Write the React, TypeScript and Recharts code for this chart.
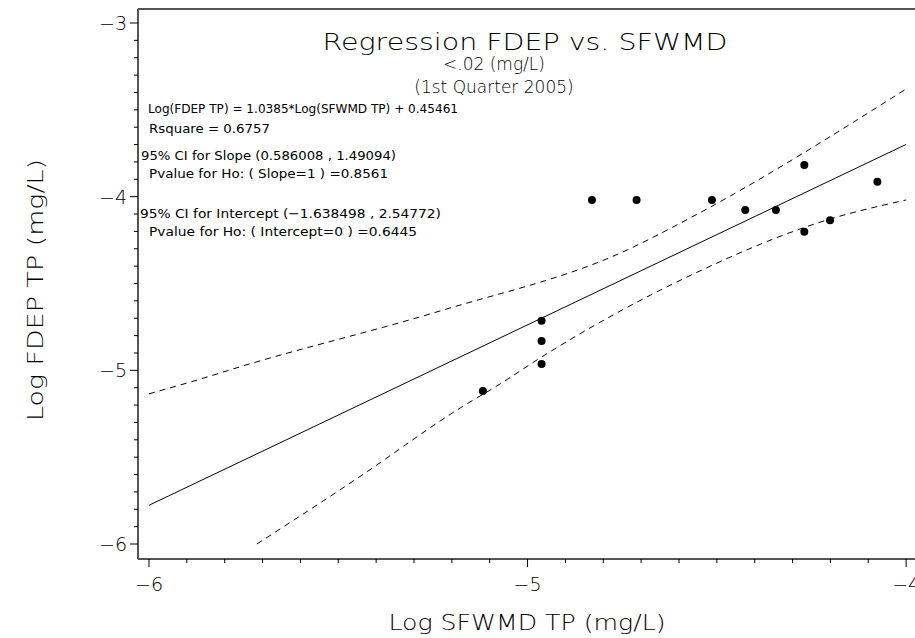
import React from "react";
import { ComposedChart, Line, Scatter, XAxis, YAxis, ReferenceLine } from "recharts";

// log values
const sfwmdLog = [-5.118, -4.963, -4.963, -4.963, -4.83, -4.712, -4.513, -4.425, -4.344, -4.269, -4.269, -4.201, -4.076];
const fdepLog = [-5.119, -4.714, -4.831, -4.963, -4.019, -4.019, -4.019, -4.077, -4.077, -3.818, -4.202, -4.136, -3.914];

const fitX = [-6, -4];
const fitY = [-5.777, -3.699];

const upperX = [-6, -5.873, -5.76, -5.231, -4.737, -4.571, -4.0];
const upperY = [-5.135, -5.056, -4.98, -4.658, -4.307, -4.123, -3.38];

const lowerX = [-5.715, -5.456, -5.178, -5.073, -4.967, -4.579, -4.201, -4.0];
const lowerY = [-6.0, -5.631, -5.217, -5.079, -4.929, -4.463, -4.129, -4.019];

const xTicks = [-6, -5.9, -5.8, -5.7, -5.6, -5.5, -5.4, -5.3, -5.2, -5.1, -5, -4.9, -4.8, -4.7, -4.6, -4.5, -4.4, -4.3, -4.2, -4.1, -4];
const yTicks = [-6, -5.9, -5.8, -5.7, -5.6, -5.5, -5.4, -5.3, -5.2, -5.1, -5, -4.9, -4.8, -4.7, -4.6, -4.5, -4.4, -4.3, -4.2, -4.1, -4, -3.9, -3.8, -3.7, -3.6, -3.5, -3.4, -3.3, -3.2, -3.1, -3];

const X_MIN = -6.029;
const X_MAX = -3.9;
const Y_MIN = -6.0863;
const Y_MAX = -2.9194;

const FONT = "'DejaVu Sans', sans-serif";

const zip = (xs: number[], ys: number[]) => xs.map((x, i) => ({ x, y: ys[i] }));
const points = zip(sfwmdLog, fdepLog);
const fit = zip(fitX, fitY);
const upper = zip(upperX, upperY);
const lower = zip(lowerX, lowerY);

const isMajor = (v: number) => Math.abs(v - Math.round(v)) < 1e-6;
const fmt = (v: number) => (v < 0 ? "\u2212" + Math.abs(Math.round(v)) : String(Math.round(v)));

const XTick = (props: any) => {
  const { x, y, payload } = props;
  const major = isMajor(payload.value);
  return (
    <g>
      <line x1={x} x2={x} y1={y} y2={y + (major ? 8 : 4)} stroke="#000" strokeWidth={1} />
      {major && (
        <text x={x} y={y + 25} textAnchor="middle" dominantBaseline="central" fontSize={19} fontFamily={FONT} fontWeight={200} fill="#000">
          {fmt(payload.value)}
        </text>
      )}
    </g>
  );
};

const YTick = (props: any) => {
  const { x, y, payload } = props;
  const major = isMajor(payload.value);
  return (
    <g>
      <line x1={x - (major ? 8 : 4)} x2={x} y1={y} y2={y} stroke="#000" strokeWidth={1} />
      {major && (
        <text x={x - 11} y={y} textAnchor="end" dominantBaseline="central" fontSize={19} fontFamily={FONT} fontWeight={200} fill="#000">
          {fmt(payload.value)}
        </text>
      )}
    </g>
  );
};

const Dot = (props: any) => <circle cx={props.cx} cy={props.cy} r={4} fill="#000" />;

const big = { fontFamily: FONT, fontWeight: 200, fill: "#000" } as const;
const small = { fontFamily: FONT, fontWeight: 400, fill: "#000" } as const;

export default function App() {
  return (
    <div style={{ position: "absolute", left: 0, top: 0, width: 915, height: 638, overflow: "hidden", background: "#fff" }}>
      <ComposedChart width={960} height={638} margin={{ top: 9, right: 16, left: 0, bottom: 0 }}>
        <XAxis
          type="number"
          dataKey="x"
          domain={[X_MIN, X_MAX]}
          allowDataOverflow
          ticks={xTicks}
          interval={0}
          height={79}
          tickSize={0}
          tickMargin={0}
          tickLine={false}
          tick={<XTick />}
          axisLine={{ stroke: "#555", strokeWidth: 2 }}
        />
        <YAxis
          type="number"
          dataKey="y"
          domain={[Y_MIN, Y_MAX]}
          allowDataOverflow
          ticks={yTicks}
          interval={0}
          width={138}
          tickSize={0}
          tickMargin={0}
          tickLine={false}
          tick={<YTick />}
          axisLine={{ stroke: "#555", strokeWidth: 2 }}
        />
        <ReferenceLine y={Y_MAX} stroke="#555" strokeWidth={2} />
        <Line data={upper} dataKey="y" type="monotone" stroke="#000" strokeWidth={1} strokeDasharray="6 5" dot={false} isAnimationActive={false} />
        <Line data={lower} dataKey="y" type="monotone" stroke="#000" strokeWidth={1} strokeDasharray="6 5" dot={false} isAnimationActive={false} />
        <Line data={fit} dataKey="y" type="linear" stroke="#000" strokeWidth={1} dot={false} isAnimationActive={false} />
        <Scatter data={points} dataKey="y" shape={<Dot />} isAnimationActive={false} />
      </ComposedChart>
      <svg width={915} height={638} style={{ position: "absolute", left: 0, top: 0, pointerEvents: "none" }}>
        <text x={525} y={42} textAnchor="middle" dominantBaseline="central" fontSize={23} textLength={405} lengthAdjust="spacingAndGlyphs" {...big}>
          Regression FDEP vs. SFWMD
        </text>
        <text x={494} y={64} textAnchor="middle" dominantBaseline="central" fontSize={17} {...big}>
          {"<.02 (mg/L)"}
        </text>
        <text x={494} y={87} textAnchor="middle" dominantBaseline="central" fontSize={17} {...big}>
          (1st Quarter 2005)
        </text>
        <text x={148} y={108} dominantBaseline="central" fontSize={13} textLength={310} lengthAdjust="spacingAndGlyphs" {...small}>
          Log(FDEP TP) = 1.0385*Log(SFWMD TP) + 0.45461
        </text>
        <text x={149} y={128} dominantBaseline="central" fontSize={13} textLength={121} lengthAdjust="spacingAndGlyphs" {...small}>
          Rsquare = 0.6757
        </text>
        <text x={141} y={155} dominantBaseline="central" fontSize={13} textLength={255} lengthAdjust="spacingAndGlyphs" {...small}>
          95% CI for Slope (0.586008 , 1.49094)
        </text>
        <text x={149} y={173} dominantBaseline="central" fontSize={13} textLength={239} lengthAdjust="spacingAndGlyphs" {...small}>
          Pvalue for Ho: ( Slope=1 ) =0.8561
        </text>
        <text x={140} y={213} dominantBaseline="central" fontSize={13} textLength={301} lengthAdjust="spacingAndGlyphs" {...small}>
          95% CI for Intercept (−1.638498 , 2.54772)
        </text>
        <text x={149} y={231} dominantBaseline="central" fontSize={13} textLength={268} lengthAdjust="spacingAndGlyphs" {...small}>
          Pvalue for Ho: ( Intercept=0 ) =0.6445
        </text>
        <text x={527} y={622} textAnchor="middle" dominantBaseline="central" fontSize={22} textLength={277} lengthAdjust="spacingAndGlyphs" {...big}>
          Log SFWMD TP (mg/L)
        </text>
        <text x={35} y={290} transform="rotate(-90 35 290)" textAnchor="middle" dominantBaseline="central" fontSize={22} textLength={262} lengthAdjust="spacingAndGlyphs" {...big}>
          Log FDEP TP (mg/L)
        </text>
      </svg>
    </div>
  );
}
